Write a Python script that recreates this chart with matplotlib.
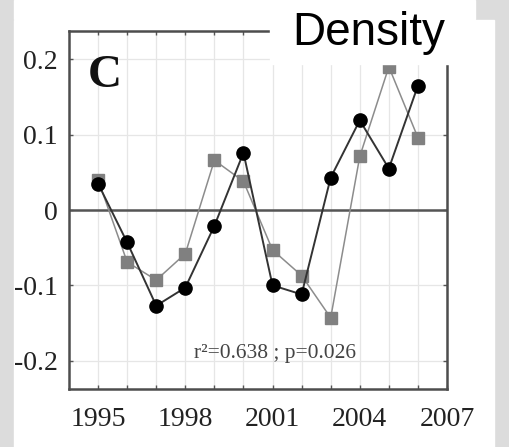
import matplotlib
matplotlib.use("Agg")
import matplotlib.pyplot as plt
from matplotlib.patches import Rectangle

# ── data ────────────────────────────────────────────────────────
years = [1995, 1996, 1997, 1998, 1999, 2000, 2001, 2002, 2003, 2004, 2005, 2006]
black_vals = [0.035, -0.043, -0.127, -0.103, -0.021, 0.076, -0.100, -0.112,
              0.043, 0.119, 0.055, 0.165]
gray_vals = [0.040, -0.069, -0.093, -0.058, 0.066, 0.038, -0.053, -0.087,
             -0.143, 0.071, 0.190, 0.096]
year_labels = [1995, 1998, 2001, 2004, 2007]
y_ticks = [-0.2, -0.1, 0, 0.1, 0.2]
y_labels = ["-0.2", "-0.1", "0", "0.1", "0.2"]

W, H = 510, 447
fig = plt.figure(figsize=(W / 100, H / 100), dpi=100, facecolor="#dcdcdc")

# white panels behind the chart
fig.add_artist(Rectangle((14 / W, 0), (494 - 14) / W, (H - 20) / H,
                         transform=fig.transFigure, color="white", zorder=-2))
fig.add_artist(Rectangle((14 / W, (H - 19) / H), (475 - 14) / W, 19 / H,
                         transform=fig.transFigure, color="white", zorder=-2))

ax = fig.add_axes([69 / W, 1 - 389 / H, (447 - 69) / W, (389 - 31) / H])
ax.set_facecolor("white")

ax.set_xlim(1994, 2007)
ax.set_ylim(-0.2375, 0.2375)

ax.set_xticks(list(range(1995, 2008)))
ax.set_xticklabels([str(y) if y in year_labels else "" for y in range(1995, 2008)])
ax.set_yticks(y_ticks)
ax.set_yticklabels(y_labels)
ax.tick_params(direction="in", length=3, width=1, color="#555555",
               top=True, right=True, labelsize=20, labelcolor="#222222")
ax.tick_params(axis="x", pad=13)
ax.tick_params(axis="y", pad=8)
for lab in ax.get_xticklabels() + ax.get_yticklabels():
    lab.set_family("Liberation Serif")

ax.grid(True, color="#e6e6e6", linewidth=0.9)
ax.set_axisbelow(True)
for sp in ax.spines.values():
    sp.set_color("#4d4d4d")
    sp.set_linewidth(1.8)

ax.axhline(0, color="#555555", linewidth=1.8, zorder=1)

ax.plot(years, gray_vals, color="#8c8c8c", linewidth=1.1, marker="s",
        markersize=8, markerfacecolor="#808080", markeredgecolor="#808080",
        zorder=2)
ax.plot(years, black_vals, color="#333333", linewidth=1.4, marker="o",
        markersize=9.5, markerfacecolor="black", markeredgecolor="black",
        zorder=3)

fig.text(88 / W, 1 - 87 / H, "C", family="Liberation Serif",
         fontweight="bold", fontsize=34, color="#111111", va="baseline")
ax.text(2001.1, -0.19, "r²=0.638 ; p=0.026", family="Liberation Serif",
        fontsize=15.5, color="#444444", ha="center", va="center")

# "Density" label box over the top of the panel
fig.add_artist(Rectangle((270 / W, 1 - 64 / H), (471 - 270) / W, 64 / H,
                         transform=fig.transFigure, color="white", zorder=5))
fig.text(292 / W, 1 - 45 / H, "Density", family="Liberation Sans",
         fontsize=33, color="black", zorder=6, va="baseline")

fig.savefig("out.png", dpi=100, facecolor=fig.get_facecolor())
